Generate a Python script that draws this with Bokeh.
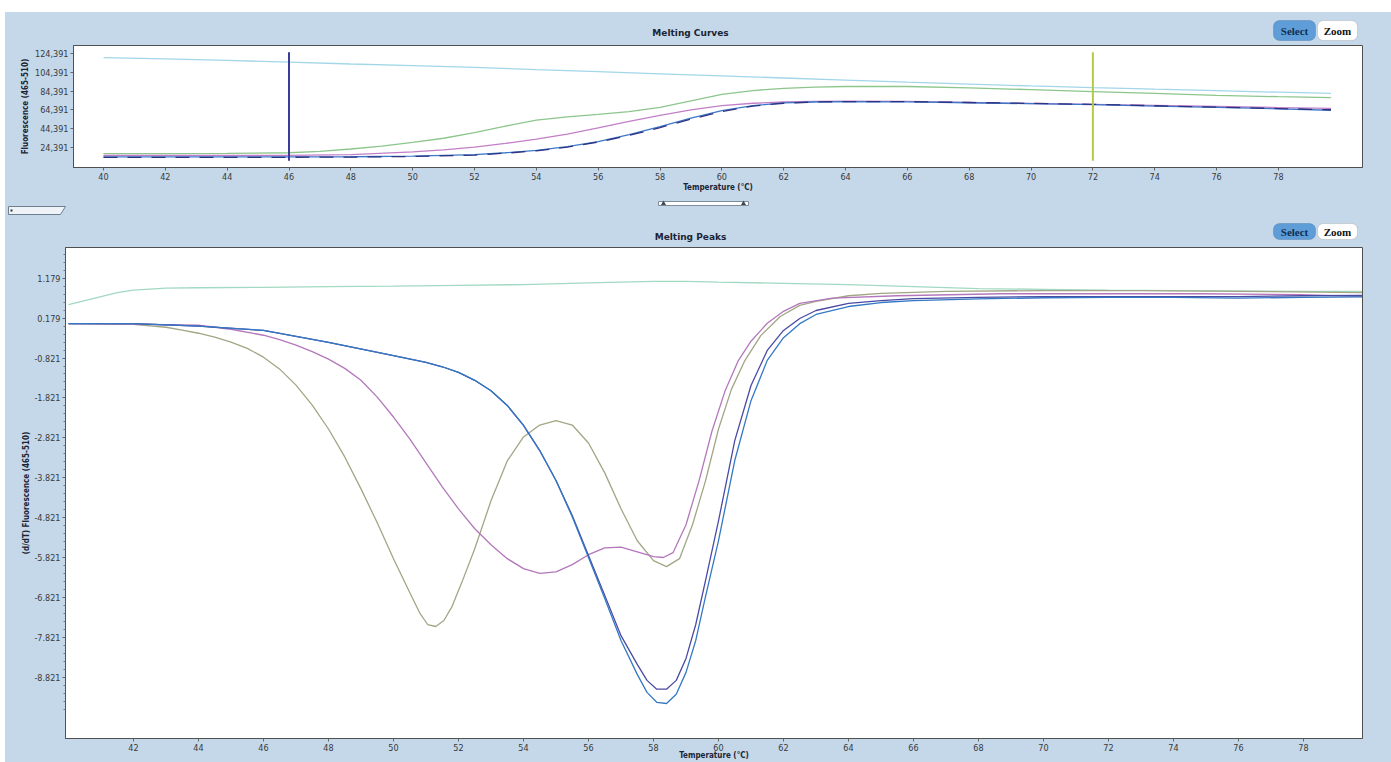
from bokeh.plotting import figure
from bokeh.layouts import column, row
from bokeh.models import Range1d, FixedTicker, NumeralTickFormatter, BoxAnnotation, Spacer
from bokeh.core.properties import value
from bokeh.embed import file_html
from bokeh.resources import INLINE

# ---------------- data: Melting Curves (top) ----------------
curve_ticks_x = [40, 42, 44, 46, 48, 50, 52, 54, 56, 58, 60, 62, 64, 66, 68, 70, 72, 74, 76, 78]
curve_ticks_y = [24391, 44391, 64391, 84391, 104391, 124391]

cyan_t = [40, 42, 44, 46, 48, 50, 52, 54, 56, 58, 60, 62, 64, 66, 68, 70, 72, 74, 76, 78, 79.7]
cyan_f = [120400, 119000, 117300, 115500, 113500, 111800, 109800, 107500, 105300, 103000, 100800,
          98500, 96300, 94000, 92000, 90000, 88200, 86500, 85000, 83300, 82000]

green_t = [40, 42, 44, 46, 47, 48, 49, 50, 51, 52, 53, 54, 55, 56, 57, 58, 59, 60, 61, 62, 63, 64,
           65, 66, 68, 70, 72, 74, 76, 78, 79.7]
green_f = [17500, 17500, 17800, 18500, 20000, 22500, 25500, 29500, 34000, 40000, 47000, 53500, 57000,
           59500, 62500, 67000, 74000, 81000, 85000, 87500, 88800, 89400, 89600, 89400, 88000, 86000,
           84000, 82000, 80000, 78500, 77500]

magenta_t = [40, 44, 46, 48, 50, 51, 52, 53, 54, 55, 56, 57, 58, 59, 60, 61, 62, 63, 64, 66, 68, 70,
             72, 74, 76, 78, 79.7]
magenta_f = [15600, 15600, 15700, 16500, 19500, 21500, 24500, 28500, 33000, 38500, 45000, 52000, 58500,
             64500, 69000, 71500, 72800, 73400, 73600, 73400, 72300, 71200, 70200, 69100, 68000, 66900,
             66000]

blue_t = [40, 44, 48, 50, 52, 53, 54, 55, 56, 57, 58, 59, 60, 61, 62, 63, 64, 66, 68, 70, 72, 74, 76,
          78, 79.7]
blue_f = [14000, 14000, 14200, 14800, 16500, 18500, 21000, 25000, 30500, 38000, 46500, 55500, 63500,
          69000, 71800, 72800, 73200, 73000, 72000, 71000, 70000, 68500, 67000, 65500, 64000]
navy_f = [13500, 13500, 13800, 14500, 16000, 18000, 20500, 24500, 30000, 37000, 45500, 54500, 62500,
          68500, 71500, 72800, 73300, 73200, 72300, 71300, 70300, 68800, 67300, 65800, 64500]

cursor_temp = [46, 72]
cursor_top = [126000, 126000]
cursor_bottom = [10000, 10000]
cursor_colors = ["#3b3b98", "#b4c84a"]

# ---------------- data: Melting Peaks (bottom) ----------------
peak_ticks_x = [42, 44, 46, 48, 50, 52, 54, 56, 58, 60, 62, 64, 66, 68, 70, 72, 74, 76, 78]
peak_ticks_y = [1.179, 0.179, -0.821, -1.821, -2.821, -3.821, -4.821, -5.821, -6.821, -7.821, -8.821]

teal_t = [40, 40.5, 41, 41.5, 42, 43, 44, 46, 48, 50, 52, 54, 56, 58, 59, 60, 62, 64, 66, 68, 70, 72,
          74, 76, 78, 79.8]
teal_v = [0.52, 0.62, 0.72, 0.82, 0.88, 0.93, 0.94, 0.95, 0.97, 0.98, 1.00, 1.02, 1.06, 1.10, 1.10,
          1.08, 1.05, 1.02, 0.97, 0.92, 0.90, 0.88, 0.87, 0.86, 0.85, 0.85]

olive_t = [40, 42, 43, 43.5, 44, 44.5, 45, 45.5, 46, 46.5, 47, 47.5, 48, 48.5, 49, 49.5, 50, 50.5,
           50.8, 51.05, 51.3, 51.55, 51.8, 52.1, 52.5, 53, 53.5, 54, 54.5, 55, 55.5, 56, 56.5, 57,
           57.5, 58, 58.4, 58.8, 59.2, 59.6, 60, 60.4, 60.8, 61.3, 61.9, 62.5, 63, 64, 65, 67, 70,
           73, 76, 79.8]
olive_v = [0.04, 0.02, -0.05, -0.12, -0.2, -0.3, -0.42, -0.58, -0.8, -1.1, -1.5, -2.0, -2.6, -3.3,
           -4.1, -4.95, -5.85, -6.7, -7.2, -7.5, -7.55, -7.4, -7.05, -6.45, -5.6, -4.4, -3.4, -2.8,
           -2.5, -2.39, -2.5, -2.95, -3.7, -4.6, -5.4, -5.9, -6.05, -5.85, -5.0, -3.9, -2.6, -1.6,
           -0.9, -0.26, 0.22, 0.5, 0.6, 0.74, 0.8, 0.85, 0.87, 0.87, 0.85, 0.82]

pink_t = [40, 42, 44, 45, 46, 46.5, 47, 47.5, 48, 48.5, 49, 49.5, 50, 50.5, 51, 51.5, 52, 52.5, 53,
          53.5, 54, 54.5, 55, 55.5, 56, 56.5, 57, 57.5, 58, 58.3, 58.6, 59, 59.4, 59.8, 60.2, 60.6,
          61, 61.5, 62, 62.5, 63.5, 65.5, 68.7, 71.75, 74.8, 77.9, 79.8]
pink_v = [0.04, 0.03, 0.0, -0.1, -0.25, -0.36, -0.5, -0.66, -0.85, -1.08, -1.38, -1.8, -2.3, -2.85,
          -3.45, -4.05, -4.6, -5.1, -5.5, -5.85, -6.1, -6.22, -6.18, -6.0, -5.75, -5.58, -5.56, -5.68,
          -5.8, -5.82, -5.7, -5.0, -3.9, -2.65, -1.65, -0.9, -0.4, 0.05, 0.35, 0.55, 0.68, 0.74, 0.79,
          0.79, 0.79, 0.77, 0.72]

deep_t = [40, 42, 44, 46, 48, 50, 51, 51.5, 52, 52.5, 53, 53.5, 54, 54.5, 55, 55.5, 56, 56.5, 57,
          57.5, 57.8, 58.1, 58.4, 58.7, 59, 59.3, 59.6, 60, 60.5, 61, 61.5, 62, 62.5, 63, 64, 65, 66,
          68, 70, 72, 74, 76, 78, 79.8]
deep_navy_v = [0.04, 0.04, -0.02, -0.13, -0.43, -0.76, -0.93, -1.04, -1.18, -1.38, -1.64, -2.01, -2.51,
               -3.14, -3.89, -4.77, -5.77, -6.77, -7.78, -8.5, -8.9, -9.12, -9.12, -8.9, -8.35, -7.5,
               -6.4, -4.9, -2.89, -1.51, -0.63, -0.13, 0.17, 0.37, 0.55, 0.62, 0.67, 0.70, 0.72, 0.72,
               0.72, 0.72, 0.74, 0.75]
deep_blue_v = [0.04, 0.04, -0.02, -0.13, -0.43, -0.76, -0.93, -1.04, -1.18, -1.38, -1.64, -2.01, -2.51,
               -3.14, -3.89, -4.8, -5.82, -6.85, -7.9, -8.75, -9.2, -9.45, -9.48, -9.25, -8.7, -7.9,
               -6.8, -5.4, -3.39, -1.89, -0.88, -0.31, 0.04, 0.27, 0.47, 0.57, 0.62, 0.66, 0.69, 0.70,
               0.70, 0.68, 0.70, 0.71]

# ---------------- styling ----------------
BG = "#c4d8ea"
FONT = "Liberation Sans Narrow, DejaVu Sans Condensed, Arial Narrow, sans-serif"
W = 1386


def style(p):
    p.xgrid.visible = False
    p.ygrid.visible = False
    for ax in list(p.xaxis) + list(p.yaxis):
        ax.major_label_text_font = FONT
        ax.major_label_text_font_size = "9px"
        ax.major_label_text_color = "#3a3a3a"
        ax.axis_line_color = "#505050"
        ax.major_tick_line_color = "#666666"
        ax.major_tick_out = 3
        ax.major_tick_in = 0
        ax.minor_tick_line_color = None
        ax.major_label_standoff = 2
        ax.axis_label_text_font = FONT
        ax.axis_label_text_font_style = "bold"
        ax.axis_label_text_font_size = "8px"
        ax.axis_label_text_color = "#1c2434"


def strip_fig(h):
    s = figure(width=W, height=h, output_backend="svg", toolbar_location=None,
               x_range=Range1d(0, W), y_range=Range1d(0, h), frame_align=False,
               min_border=0, min_border_left=0, min_border_right=0, min_border_top=0,
               min_border_bottom=0, border_fill_color=BG, background_fill_color=BG,
               outline_line_color=None)
    s.axis.visible = False
    s.grid.visible = False
    return s


def title_and_buttons(s, title, ty, by0, by1):
    s.text(x=[685], y=[ty], text=[title], text_align="center", text_baseline="middle",
           text_font=value("DejaVu Sans"), text_font_style="bold", text_font_size="9px",
           text_color="#1c2434")
    s.add_layout(BoxAnnotation(left=1268, right=1310, bottom=by0, top=by1, fill_color="#5f9dd8",
                               fill_alpha=1, line_color="#2f5f90", line_width=1, border_radius=6,
                               level="underlay"))
    s.add_layout(BoxAnnotation(left=1312, right=1352, bottom=by0, top=by1, fill_color="white",
                               fill_alpha=1, line_color="#8c8c8c", line_width=1, border_radius=6,
                               level="underlay"))
    cy = (by0 + by1) / 2
    s.text(x=[1289, 1332], y=[cy, cy], text=["Select", "Zoom"], text_align="center",
           text_baseline="middle", text_font=value("Liberation Serif"), text_font_style="bold",
           text_font_size="11px", text_color=["#10304f", "#111111"])


# ---------------- header of top chart ----------------
head = strip_fig(32)
title_and_buttons(head, "Melting Curves", 12, 4, 24)

# ---------------- top figure ----------------
top = figure(width=W, height=150, output_backend="svg", toolbar_location=None, frame_align=False,
             x_range=Range1d(39.03, 80.72), y_range=Range1d(2700, 133300),
             min_border_left=68, min_border_right=29, min_border_top=1, min_border_bottom=27,
             border_fill_color=BG, background_fill_color="white",
             outline_line_color="#505050")
style(top)
top.xaxis.ticker = FixedTicker(ticks=curve_ticks_x)
top.yaxis.ticker = FixedTicker(ticks=curve_ticks_y)
top.yaxis.formatter = NumeralTickFormatter(format="0,0")
top.xaxis.axis_label = "Temperature (°C)"
top.xaxis.axis_label_standoff = 0
top.yaxis.axis_label = "Fluorescence (465-510)"
top.yaxis.axis_label_standoff = 2

top.line(cyan_t, cyan_f, line_color="#a3d6e8", line_width=1.3)
top.line(green_t, green_f, line_color="#8cc68c", line_width=1.3)
top.line(magenta_t, magenta_f, line_color="#c27fc8", line_width=1.3)
top.line(blue_t, blue_f, line_color="#3c78c8", line_width=1.3)
top.line(blue_t, navy_f, line_color="#2e3282", line_width=1.3, line_dash="14 10")
top.segment(x0=cursor_temp, y0=cursor_bottom, x1=cursor_temp, y1=cursor_top,
            line_color=cursor_colors, line_width=2)

# ---------------- middle strip: sliders + bottom header ----------------
mid = strip_fig(52)
grip_x = [3, 60, 55, 3]
grip_y = [40, 40, 32, 32]
mid.patch(grip_x, grip_y, fill_color="#eef3f8", line_color="#6f7f90", line_width=1)
mid.scatter([6], [36], marker="square", size=2, fill_color="#333333", line_color=None)
slider_x = [653, 743, 743, 653]
slider_y = [45, 45, 41, 41]
mid.patch(slider_x, slider_y, fill_color="white", line_color="#7f8c99", line_width=1)
mid.scatter([658, 738], [43, 43], marker="triangle", size=5, fill_color="#404a55", line_color=None)
title_and_buttons(mid, "Melting Peaks", 10, 7, 23)

# ---------------- bottom figure ----------------
bot = figure(width=W, height=516, output_backend="svg", toolbar_location=None, frame_align=False,
             x_range=Range1d(39.908, 79.815), y_range=Range1d(-10.357, 1.949),
             min_border_left=60, min_border_right=29, min_border_top=1, min_border_bottom=23,
             border_fill_color=BG, background_fill_color="white",
             outline_line_color="#505050")
style(bot)
bot.xaxis.ticker = FixedTicker(ticks=peak_ticks_x)
minor = [t - k * 0.2 for t in peak_ticks_y + [2.179] for k in range(1, 5)]
bot.yaxis.ticker = FixedTicker(ticks=peak_ticks_y, minor_ticks=minor)
bot.yaxis.minor_tick_line_color = "#777777"
bot.yaxis.minor_tick_out = 2
bot.yaxis.minor_tick_in = 0
bot.yaxis.formatter = NumeralTickFormatter(format="0.000")
bot.xaxis.axis_label = "Temperature (°C)"
bot.xaxis.axis_label_standoff = -3
bot.yaxis.axis_label = "(d/dT) Fluorescence (465-510)"
bot.yaxis.axis_label_standoff = 0

bot.line(teal_t, teal_v, line_color="#a2d9c2", line_width=1.3)
bot.line(olive_t, olive_v, line_color="#a2a684", line_width=1.3)
bot.line(pink_t, pink_v, line_color="#b477bc", line_width=1.3)
bot.line(deep_t, deep_navy_v, line_color="#4a4aa4", line_width=1.3)
bot.line(deep_t, deep_blue_v, line_color="#3478c4", line_width=1.3)

inner = column(head, top, mid, bot, spacing=0, styles={"background-color": BG})
layout = column(Spacer(width=1391, height=12),
                row(Spacer(width=5, height=750), inner, spacing=0), spacing=0)
open("out.html", "w").write(file_html(layout, INLINE))
